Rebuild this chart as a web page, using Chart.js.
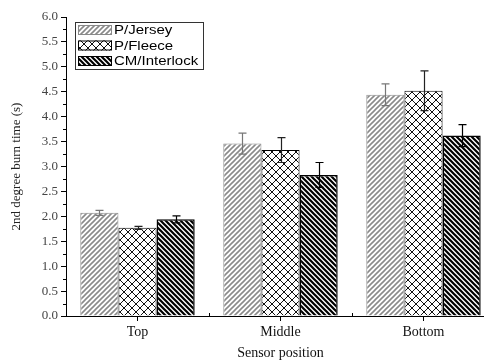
<!DOCTYPE html>
<html>
<head>
<meta charset="utf-8">
<script src="https://cdn.jsdelivr.net/npm/chart.js@4.4.1/dist/chart.umd.min.js"></script>
<style>
  html, body { margin: 0; padding: 0; background: #fff; overflow: hidden; }
  #burn { display: block; }
</style>
</head>
<body>
<canvas id="burn" width="500" height="362"></canvas>
<script>
const categories = ['Top', 'Middle', 'Bottom'];
const fabrics = ['P/Jersey', 'P/Fleece', 'CM/Interlock'];

const jersey = [2.07, 3.46, 4.44];
const jerseyErr = [0.05, 0.21, 0.22];
const fleece = [1.77, 3.33, 4.52];
const fleeceErr = [0.03, 0.25, 0.40];
const interlock = [1.94, 2.83, 3.62];
const interlockErr = [0.07, 0.25, 0.22];

const yTicks = [0, 0.5, 1, 1.5, 2, 2.5, 3, 3.5, 4, 4.5, 5, 5.5, 6];

// hatch fills
function hatch(color, lw, size, dir) {
    const c = document.createElement('canvas');
    c.width = c.height = size;
    const g = c.getContext('2d');
    g.fillStyle = '#fff';
    g.fillRect(0, 0, size, size);
    g.strokeStyle = color;
    g.lineWidth = lw;
    g.beginPath();
    if (dir === '/' || dir === 'x') {
        g.moveTo(0, size); g.lineTo(size, 0);
        g.moveTo(-size / 2, size / 2); g.lineTo(size / 2, -size / 2);
        g.moveTo(size / 2, size * 1.5); g.lineTo(size * 1.5, size / 2);
    }
    if (dir === '\\' || dir === 'x') {
        g.moveTo(0, 0); g.lineTo(size, size);
        g.moveTo(-size / 2, size / 2); g.lineTo(size / 2, size * 1.5);
        g.moveTo(size / 2, -size / 2); g.lineTo(size * 1.5, size / 2);
    }
    g.stroke();
    return g.createPattern(c, 'repeat');
}

const jerseyFill = hatch('#8a8a8a', 1.6, 5, '/');
const fleeceFill = hatch('#111', 1, 8, 'x');
const interlockFill = hatch('#000', 2.2, 5, '\\');

const errorBars = {
    id: 'errorBars',
    afterDatasetsDraw(chart) {
        const ctx = chart.ctx;
        const y = chart.scales.y;
        chart.data.datasets.forEach((ds, i) => {
            const meta = chart.getDatasetMeta(i);
            ctx.save();
            ctx.strokeStyle = ds.errColor;
            ctx.lineWidth = 1.2;
            meta.data.forEach((bar, j) => {
                const hi = y.getPixelForValue(ds.data[j] + ds.errors[j]);
                const lo = y.getPixelForValue(ds.data[j] - ds.errors[j]);
                const x = Math.round(bar.x) + 0.5;
                ctx.beginPath();
                ctx.moveTo(x, hi); ctx.lineTo(x, lo);
                ctx.moveTo(x - 4, hi); ctx.lineTo(x + 4, hi);
                ctx.moveTo(x - 4, lo); ctx.lineTo(x + 4, lo);
                ctx.stroke();
            });
            ctx.restore();
        });
    }
};

const extras = {
    id: 'extras',
    afterDraw(chart) {
        const ctx = chart.ctx;
        const {x, y} = chart.scales;
        const area = chart.chartArea;
        ctx.save();
        ctx.strokeStyle = '#000';
        ctx.lineWidth = 1;
        ctx.beginPath();
        // minor ticks on y
        for (let i = 0; i < yTicks.length - 1; i++) {
            const py = Math.round(y.getPixelForValue((yTicks[i] + yTicks[i + 1]) / 2)) + 0.5;
            ctx.moveTo(area.left - 3, py); ctx.lineTo(area.left, py);
        }
        // minor ticks between categories on x
        for (let i = 0; i < categories.length - 1; i++) {
            const px = Math.round((x.getPixelForValue(i) + x.getPixelForValue(i + 1)) / 2) + 0.5;
            ctx.moveTo(px, area.bottom); ctx.lineTo(px, area.bottom - 3);
        }
        ctx.stroke();

        // legend
        const lx = 75, ly = 22, lw = 128, lh = 47;
        ctx.fillStyle = '#fff';
        ctx.fillRect(lx, ly, lw, lh);
        ctx.strokeStyle = '#333';
        ctx.strokeRect(lx + 0.5, ly + 0.5, lw, lh);
        chart.data.datasets.forEach((ds, i) => {
            const cy = ly + 8 + i * 15.5;
            ctx.fillStyle = ds.backgroundColor;
            ctx.fillRect(78, cy - 5, 34, 10);
            ctx.strokeStyle = ds.borderColor;
            ctx.strokeRect(78.5, cy - 4.5, 33, 9);
            ctx.save();
            ctx.translate(114, cy + 1);
            ctx.scale(1.25, 1);
            ctx.fillStyle = '#000';
            ctx.font = '12px "Liberation Sans", Arial, sans-serif';
            ctx.textBaseline = 'middle';
            ctx.fillText(ds.label, 0, 0);
            ctx.restore();
        });
        ctx.restore();
    }
};

new Chart(document.getElementById('burn'), {
    type: 'bar',
    data: {
        labels: categories,
        datasets: [
            {
                label: fabrics[0], data: jersey, errors: jerseyErr, errColor: '#777',
                backgroundColor: jerseyFill, borderColor: '#8a8a8a', borderWidth: 1
            },
            {
                label: fabrics[1], data: fleece, errors: fleeceErr, errColor: '#222',
                backgroundColor: fleeceFill, borderColor: '#000', borderWidth: 1
            },
            {
                label: fabrics[2], data: interlock, errors: interlockErr, errColor: '#000',
                backgroundColor: interlockFill, borderColor: '#000', borderWidth: 1.5
            }
        ]
    },
    options: {
        responsive: false,
        animation: false,
        categoryPercentage: 0.8,
        barPercentage: 1.0,
        layout: { padding: { left: 0, right: 5, top: 17, bottom: 0 } },
        plugins: {
            legend: { display: false },
            tooltip: { enabled: false }
        },
        scales: {
            x: {
                afterFit: (s) => { s.height = 46; },
                grid: { drawOnChartArea: false, offset: false, tickLength: 5, color: '#000' },
                border: { color: '#000', width: 1 },
                ticks: {
                    padding: 3, color: '#111',
                    font: { family: '"Liberation Serif", "Times New Roman", serif', size: 14 }
                },
                title: {
                    display: true, text: 'Sensor position', color: '#111',
                    padding: { top: 0, bottom: 0 },
                    font: { family: '"Liberation Serif", "Times New Roman", serif', size: 14 }
                }
            },
            y: {
                min: 0, max: 6,
                afterFit: (s) => { s.width = 66; },
                afterBuildTicks: (s) => { s.ticks = yTicks.map(v => ({ value: v })); },
                grid: { drawOnChartArea: false, tickLength: 5, color: '#000' },
                border: { color: '#000', width: 1 },
                ticks: {
                    padding: 3, color: '#444',
                    callback: (v) => Number(v).toFixed(1),
                    font: { family: '"Liberation Serif", "Times New Roman", serif', size: 13 }
                },
                title: {
                    display: true, text: '2nd degree burn time (s)', color: '#222',
                    padding: { top: 9, bottom: 0 },
                    font: { family: '"Liberation Serif", "Times New Roman", serif', size: 13 }
                }
            }
        }
    },
    plugins: [errorBars, extras]
});
</script>
</body>
</html>
